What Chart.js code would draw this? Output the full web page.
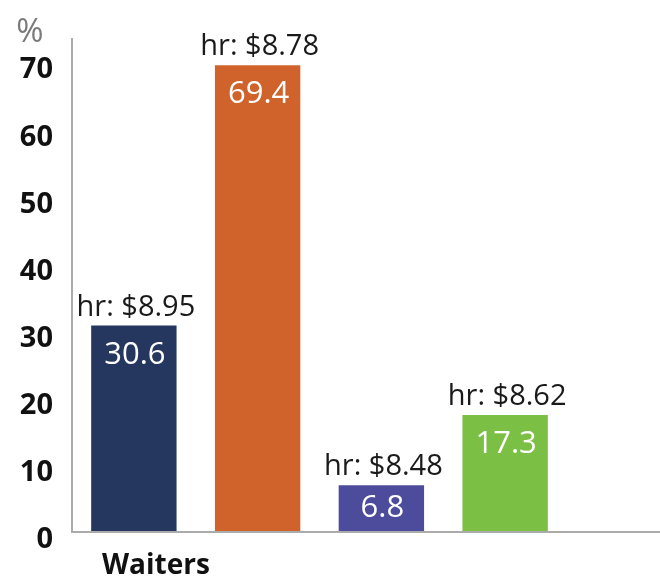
<!DOCTYPE html>
<html>
<head>
<meta charset="utf-8">
<script src="https://cdn.jsdelivr.net/npm/chart.js@4/dist/chart.umd.min.js"></script>
<style>
    body { margin: 0; background: #fff; }
    #wrap { width: 660px; height: 580px; }
</style>
</head>
<body>
<div id="wrap"><canvas id="chart" width="660" height="580"></canvas></div>
<script>
// Chart data
const groupLabels = ['Waiters', '', '', ''];
const shares = [30.6, 69.4, 6.8, 17.3];
const hourlyRates = ['$8.95', '$8.78', '$8.48', '$8.62'];
const yTicks = [0, 10, 20, 30, 40, 50, 60, 70];
const barColors = ['#26375f', '#d0632c', '#4d4c9c', '#7bbf44'];

const axisGrey = '#ababab';

// Draw the hourly labels, values inside bars, % sign and the long base line
const barLabels = {
    id: 'barLabels',
    afterDraw(chart) {
        const ctx = chart.ctx;
        const area = chart.chartArea;
        const meta = chart.getDatasetMeta(0);

        ctx.save();
        ctx.textAlign = 'center';
        ctx.textBaseline = 'alphabetic';
        meta.data.forEach(function(bar, i) {
            ctx.fillStyle = '#1a1a1a';
            ctx.font = '29px "Open Sans"';
            ctx.fillText('hr: ' + hourlyRates[i], bar.x + 2, bar.y - 10);

            ctx.fillStyle = '#ffffff';
            ctx.font = '31px "Open Sans"';
            ctx.fillText(shares[i].toFixed(1), bar.x + 1, Math.min(bar.y + 38, bar.base - 14));
        });

        ctx.fillStyle = '#7a7a7a';
        ctx.font = '33px "Open Sans"';
        ctx.fillText('%', area.left - 42, area.top + 3);

        // base line runs to the right edge
        ctx.strokeStyle = axisGrey;
        ctx.lineWidth = 2;
        ctx.beginPath();
        ctx.moveTo(area.left - 1, area.bottom + 1);
        ctx.lineTo(chart.width, area.bottom + 1);
        ctx.stroke();
        ctx.restore();
    }
};

new Chart(document.getElementById('chart'), {
    type: 'bar',
    data: {
        labels: groupLabels,
        datasets: [{
            data: shares,
            backgroundColor: barColors,
            borderWidth: 0,
            barPercentage: 0.69,
            categoryPercentage: 1
        }]
    },
    options: {
        responsive: false,
        animation: false,
        layout: { padding: { top: 39, right: 93, bottom: 0, left: 0 } },
        plugins: {
            legend: { display: false },
            tooltip: { enabled: false }
        },
        scales: {
            x: {
                grid: { display: false, drawTicks: false },
                border: { display: false },
                ticks: {
                    color: '#111',
                    font: { family: 'Open Sans', size: 28, weight: 'bold' },
                    padding: 18,
                    labelOffset: 22,
                    maxRotation: 0,
                    autoSkip: false
                },
                afterFit: function(scale) { scale.height = 49; }
            },
            y: {
                min: 0,
                max: 73.3,
                grid: { display: false, drawTicks: false },
                border: { display: true, color: axisGrey, width: 2 },
                afterBuildTicks: function(scale) {
                    scale.ticks = yTicks.map(v => ({ value: v }));
                },
                ticks: {
                    color: '#111',
                    font: { family: 'Open Sans', size: 29, weight: 'bold' },
                    padding: 19,
                    labelOffset: 9
                },
                afterFit: function(scale) { scale.width = 72; }
            }
        }
    },
    plugins: [barLabels]
});
</script>
</body>
</html>
